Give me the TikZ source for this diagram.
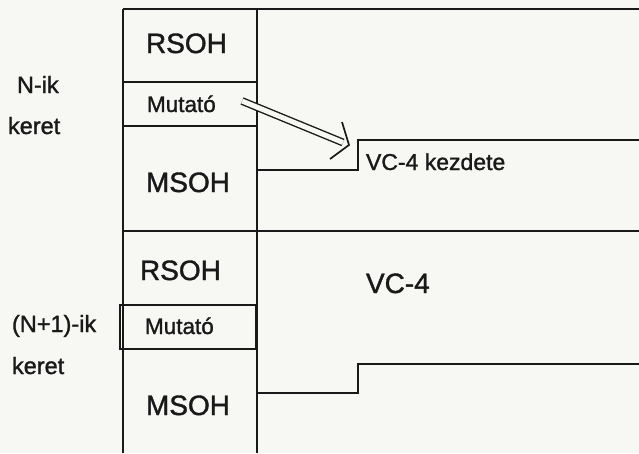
\documentclass[tikz,border=0pt]{standalone}
\usepackage{fontspec}
\setmainfont{Liberation Sans}[RawFeature={embolden=1.3}]
\definecolor{paper}{RGB}{247,247,243}
\definecolor{ink}{RGB}{25,25,25}
\begin{document}
\begin{tikzpicture}[x=1pt,y=-1pt,line width=1.4pt,draw=ink,
  lbl/.style={anchor=base west,inner sep=0pt,outer sep=0pt,text=ink},
  big/.style={lbl,font=\fontsize{28}{30}\selectfont},
  mid/.style={lbl,font=\fontsize{22.5}{26}\selectfont},
  side/.style={lbl,font=\fontsize{23.5}{26}\selectfont},
  ptrbox/.style={draw=ink,line width=2pt},
  frame/.style={draw=ink,line width=1.4pt}]
\useasboundingbox (0,0) rectangle (639,453);
\fill[paper] (0,0) rectangle (639,453);
% column and frame lines
\draw[frame] (123,9) -- (639,9);
\draw[frame] (123,9) -- (123,453);
\draw[frame] (257,9) -- (257,453);
\draw[frame] (123,231) -- (639,231);
% pointer boxes
\draw[ptrbox] (123,82) rectangle (257,126);
\draw[ptrbox] (120,305) rectangle (256,349);
% VC-4 start steps
\draw[frame] (257,170) -| (358,140) -- (639,140);
\draw[frame] (257,393) -| (358,364) -- (639,364);
% texts, frame N
\node[big] (rsoh1) at (146,53) {RSOH};
\node[mid] (mut1) at (147,112) {Mutató};
\node[big] (msoh1) at (146,192) {MSOH};
\node[side] (nik) at (17,93) {N-ik};
\node[side] (ker1) at (8,134) {keret};
\node[mid,font=\fontsize{23}{26}\selectfont] (kezd) at (366,170) {VC-4 kezdete};
% texts, frame N+1
\node[big] (rsoh2) at (140,280) {RSOH};
\node[mid] (mut2) at (145,334) {Mutató};
\node[big] (msoh2) at (146,415) {MSOH};
\node[side] (n1ik) at (12,332) {(N+1)-ik};
\node[side] (ker2) at (12,374) {keret};
\node[big] (vc4) at (366,293) {VC-4};
% pointer arrow
\coordinate (astart) at (242,101);
\coordinate (aend) at (343,142.5);
\coordinate (atip) at (349,145);
\coordinate (barbA) at (342,122);
\coordinate (barbB) at (330,159);
\draw[line width=1.4pt,double=paper,double distance=5pt] (astart) -- (aend);
\draw[line width=1.7pt,line join=miter] (barbA) -- (atip) -- (barbB);
\end{tikzpicture}
\end{document}
